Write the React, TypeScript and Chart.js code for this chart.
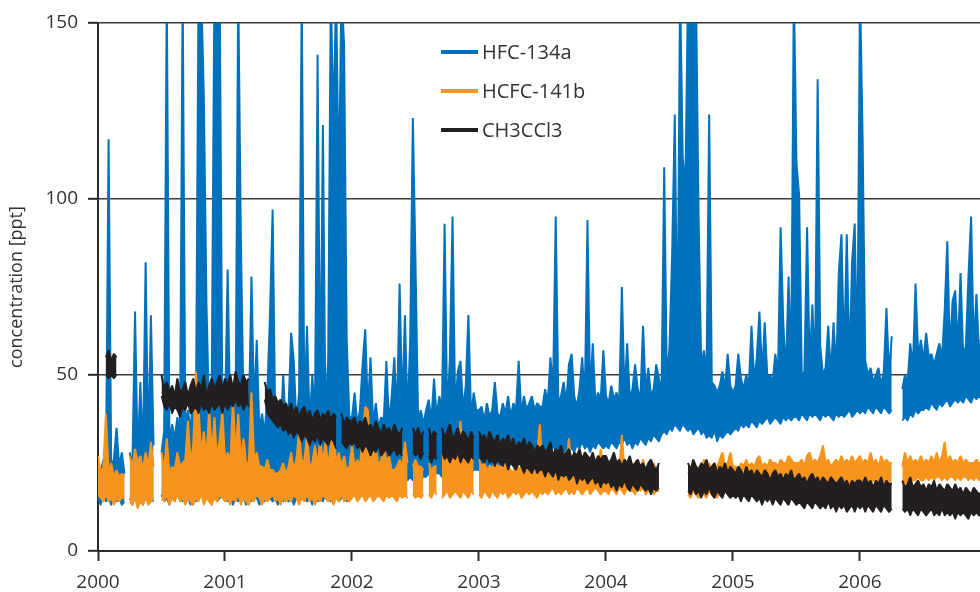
import React, { useEffect, useRef } from 'react';
import { Chart, registerables } from 'chart.js';

Chart.register(...registerables);

const _ = null;

// weekly records: START_YEAR + index / SAMPLES_PER_YEAR; each record gives the
// highest and the lowest value measured in that week
const START_YEAR = 2000;
const SAMPLES_PER_YEAR = 48;
const X_MIN = 2000;
const X_MAX = 2006.945;
const Y_MIN = 0;
const Y_MAX = 150;
const Y_STEP = 50;
const X_STEP = 1;

const SERIES_NAMES = ['HFC-134a', 'HCFC-141b', 'CH3CCl3'];
const SERIES_COLORS = ['#0071bc', '#f7941d', '#231f20'];
const Y_TITLE = 'concentration [ppt]';

// HFC-134a [ppt]
const HFC134A_HIGH = [
  24, 22, 26, 22, 117, 24, 26, 35, 24, 28, 22, _, 28, 24, 68, 26, 48, 27, 82, 28, 67, 30, _, _,
  28, 34, 160, 30, 36, 32, 38, 33, 160, 35, 40, 34, 45, 36, 160, 160, 129, 70, 38, 50, 160, 160, 160, 40,
  38, 80, 36, 45, 38, 160, 89, 40, 48, 36, 78, 40, 60, 34, 39, 33, 45, 67, 97, 36, 42, 34, 50, 35,
  40, 62, 54, 36, 45, 160, 38, 64, 36, 50, 38, 141, 40, 121, 37, 55, 160, 120, 160, 100, 160, 144, 60, 38,
  38, 45, 36, 40, 53, 63, 40, 55, 36, 42, 35, 38, 37, 54, 36, 44, 55, 38, 76, 40, 67, 38, 60, 123,
  82, 37, 40, 36, 40, 43, 37, 49, 38, 44, 40, 93, 38, 55, 95, 40, 51, 54, 40, 47, 67, 38, 45, 40,
  40, 41, 37, 42, 38, 40, 48, 39, 38, 42, 39, 44, 38, 42, 40, 54, 39, 44, 40, 42, 44, 40, 42, 41,
  41, 46, 42, 55, 46, 95, 42, 44, 48, 42, 53, 56, 44, 41, 46, 55, 43, 94, 44, 59, 42, 45, 43, 57,
  44, 42, 47, 43, 45, 42, 75, 44, 59, 43, 46, 53, 46, 43, 64, 45, 52, 44, 46, 53, 49, 45, 109, 48,
  58, 84, 124, 55, 160, 112, 103, 160, 160, 160, 160, 95, 52, 57, 50, 124, 48, 47, 45, 47, 51, 46, 56, 47,
  45, 47, 56, 49, 46, 50, 47, 64, 48, 55, 68, 50, 65, 49, 50, 48, 56, 50, 92, 65, 50, 78, 52, 160,
  110, 101, 50, 51, 92, 52, 70, 50, 134, 58, 50, 52, 64, 50, 65, 51, 79, 90, 54, 90, 52, 82, 93, 52,
  160, 117, 54, 50, 52, 48, 50, 52, 47, 51, 69, 50, 61, _, _, _, 46, 50, 48, 59, 52, 76, 55, 60,
  54, 62, 55, 56, 53, 56, 59, 55, 68, 88, 56, 71, 74, 57, 79, 56, 58, 78, 95, 57, 73, 56, 62,
];
const HFC134A_LOW = [
  15, 13, 16, 14, 15, 13, 16, 14, 15, 13, 14, _, 15, 13, 16, 14, 15, 13, 16, 14, 15, 14, _, _,
  16, 14, 15, 13, 16, 14, 17, 15, 14, 16, 15, 13, 16, 14, 15, 17, 14, 16, 15, 13, 16, 14, 15, 16,
  15, 14, 16, 13, 15, 14, 16, 15, 13, 15, 14, 16, 15, 13, 15, 14, 16, 15, 14, 15, 13, 16, 14, 15,
  14, 15, 13, 15, 14, 16, 15, 14, 15, 13, 16, 14, 15, 14, 16, 15, 14, 15, 16, 14, 15, 16, 14, 15,
  17, 16, 18, 17, 19, 18, 17, 19, 18, 20, 18, 19, 20, 18, 19, 20, 19, 21, 20, 19, 21, 20, 21, 20,
  21, 20, 22, 21, 21, 22, 21, 23, 22, 22, 21, 22, 23, 22, 21, 23, 22, 21, 23, 22, 24, 22, 23, 23,
  23, 22, 24, 23, 25, 24, 23, 25, 24, 26, 25, 24, 26, 25, 27, 26, 25, 27, 26, 28, 27, 26, 28, 27,
  28, 27, 29, 28, 30, 28, 29, 30, 28, 29, 30, 29, 28, 30, 29, 31, 29, 30, 28, 30, 29, 31, 30, 29,
  30, 29, 31, 30, 29, 31, 30, 32, 30, 31, 29, 31, 30, 32, 31, 30, 32, 31, 33, 32, 31, 33, 34, 33,
  35, 34, 36, 35, 34, 36, 35, 34, 35, 33, 34, 35, 33, 34, 32, 33, 32, 34, 31, 33, 32, 33, 34, 33,
  34, 35, 34, 36, 35, 36, 35, 37, 36, 35, 37, 36, 37, 38, 36, 37, 38, 37, 36, 38, 37, 38, 37, 38,
  38, 37, 39, 38, 37, 39, 38, 39, 38, 37, 39, 38, 39, 38, 37, 39, 38, 39, 38, 39, 40, 38, 39, 40,
  39, 40, 39, 41, 40, 39, 41, 40, 39, 41, 40, 39, 40, _, _, _, 37, 38, 37, 39, 38, 40, 39, 40,
  40, 41, 40, 42, 41, 40, 42, 41, 42, 43, 41, 42, 43, 42, 43, 42, 44, 43, 42, 44, 43, 44, 43,
];

// HCFC-141b [ppt]
const HCFC141B_HIGH = [
  27, 22, 24, 39, 22, 25, 21, 23, 21, 22, 21, _, 27, 24, 29, 25, 27, 23, 28, 24, 31, 24, _, _,
  28, 23, 32, 22, 24, 23, 28, 24, 25, 26, 37, 25, 30, 51, 41, 27, 34, 26, 41, 27, 38, 26, 32, 40,
  26, 28, 25, 43, 27, 39, 26, 32, 25, 25, 45, 26, 28, 24, 24, 23, 26, 23, 23, 22, 22, 23, 25, 22,
  24, 28, 23, 26, 34, 25, 26, 33, 24, 25, 30, 24, 32, 25, 31, 24, 30, 35, 25, 28, 24, 27, 23, 24,
  30, 24, 26, 24, 33, 41, 40, 26, 28, 30, 24, 26, 31, 25, 27, 23, 23, 24, 26, 24, 31, 25, _, 24,
  26, 24, 24, 23, _, 25, 23, 24, 24, _, 28, 25, 27, 26, 28, 25, 30, 37, 26, 28, 25, 27, 26, _,
  26, 24, 25, 23, 24, 23, 26, 24, 24, 23, 25, 24, 23, 22, 26, 23, 24, 22, 25, 23, 27, 23, 28, 36,
  23, 24, 22, 23, 23, 25, 22, 24, 23, 25, 32, 23, 23, 22, 24, 23, 25, 22, 24, 23, 26, 23, 29, 24,
  24, 23, 25, 22, 24, 23, 33, 23, 24, 22, 25, 23, 24, 23, 26, 23, 24, 22, 25, 23, 23, _, _, _,
  _, _, _, _, _, _, _, 22, 23, 25, 23, 24, 22, 26, 23, 25, 23, 24, 24, 26, 28, 24, 25, 28,
  24, 24, 23, 25, 24, 26, 24, 25, 24, 26, 27, 24, 25, 24, 26, 25, 25, 24, 26, 25, 25, 27, 26, 25,
  25, 25, 26, 24, 27, 28, 25, 26, 25, 27, 30, 25, 26, 24, 25, 26, 25, 27, 25, 26, 25, 27, 25, 26,
  27, 25, 26, 25, 28, 25, 26, 24, 27, 25, 26, 25, 25, _, _, _, 24, 28, 25, 27, 25, 26, 25, 27,
  25, 26, 25, 27, 25, 28, 25, 27, 31, 25, 27, 25, 26, 25, 27, 25, 26, 25, 25, 25, 26, 25, 24,
];
const HCFC141B_LOW = [
  16, 15, 14, 16, 14, 15, 13, 15, 14, 15, 15, _, 14, 13, 15, 12, 14, 13, 15, 13, 14, 15, _, _,
  15, 14, 16, 13, 15, 14, 16, 14, 15, 13, 15, 14, 13, 15, 14, 16, 13, 15, 14, 13, 15, 14, 16, 15,
  14, 15, 13, 15, 14, 16, 13, 15, 14, 13, 15, 14, 16, 15, 13, 15, 14, 15, 16, 14, 15, 13, 15, 14,
  15, 14, 16, 15, 13, 15, 14, 16, 14, 15, 13, 15, 14, 16, 15, 14, 15, 13, 15, 14, 16, 14, 15, 14,
  15, 16, 14, 15, 16, 14, 15, 16, 14, 15, 16, 15, 14, 16, 15, 16, 15, 14, 16, 15, 16, 15, _, 16,
  15, 16, 15, 16, _, 16, 15, 17, 16, _, 15, 16, 17, 15, 16, 17, 16, 15, 17, 16, 15, 17, 16, _,
  16, 15, 17, 16, 15, 17, 16, 15, 17, 16, 17, 15, 16, 17, 16, 17, 15, 16, 17, 16, 17, 16, 15, 17,
  16, 17, 16, 17, 18, 16, 17, 16, 17, 18, 16, 17, 16, 18, 17, 16, 17, 18, 16, 17, 18, 17, 16, 17,
  17, 16, 18, 17, 16, 18, 17, 16, 18, 17, 17, 16, 18, 17, 18, 16, 17, 18, 16, 17, 17, _, _, _,
  _, _, _, _, _, _, _, 16, 15, 17, 16, 15, 17, 16, 15, 17, 16, 16, 15, 17, 16, 17, 16, 17,
  17, 16, 18, 17, 16, 18, 17, 18, 17, 16, 18, 17, 18, 17, 18, 17, 18, 17, 18, 18, 17, 18, 18, 17,
  18, 19, 18, 19, 18, 19, 18, 19, 19, 18, 19, 18, 19, 19, 18, 19, 19, 18, 19, 19, 18, 19, 19, 18,
  19, 20, 19, 20, 19, 20, 20, 19, 20, 19, 20, 20, 19, _, _, _, 20, 19, 20, 21, 20, 20, 21, 20,
  20, 21, 20, 21, 20, 21, 21, 20, 21, 20, 21, 21, 20, 21, 20, 21, 21, 20, 21, 20, 21, 20, 21,
];

// CH3CCl3 [ppt]
const CH3CCL3_HIGH = [
  _, _, _, 55, 57, 54, 56, 55, _, _, _, _, _, _, _, _, _, _, _, _, _, _, _, _,
  50, 46, 48, 45, 47, 44, 49, 45, 46, 48, 44, 47, 49, 45, 48, 46, 50, 44, 47, 49, 46, 48, 50, 46,
  49, 47, 50, 46, 51, 48, 47, 50, 48, 49, _, _, _, _, _, 48, 45, 46, 43, 44, 42, 43, 41, 42,
  40, 42, 39, 41, 38, 40, 41, 38, 40, 37, 39, 40, 37, 39, 38, 40, 37, 39, 38, _, 39, 36, 38, 37,
  37, 38, 35, 37, 36, 38, 35, 36, 34, 37, 35, 33, 36, 34, 35, 33, 36, 34, 33, 35, _, _, _, 35,
  33, 35, 32, 34, _, 35, 32, 34, 33, _, 35, 32, 34, 36, 32, 33, 35, 32, 34, 33, 31, 34, 32, _,
  34, 32, 33, 31, 34, 32, 31, 33, 30, 32, 31, 33, 30, 32, 29, 31, 30, 32, 29, 31, 30, 28, 30, 29,
  30, 28, 29, 31, 27, 29, 28, 30, 27, 28, 29, 26, 28, 27, 29, 26, 28, 27, 26, 28, 25, 27, 26, 27,
  27, 25, 26, 28, 25, 26, 24, 26, 25, 27, 24, 25, 26, 24, 25, 23, 25, 26, 24, 23, 25, _, _, _,
  _, _, _, _, _, _, _, 25, 23, 26, 24, 23, 25, 24, 26, 23, 24, 25, 22, 24, 23, 25, 22, 24,
  23, 22, 24, 23, 21, 24, 22, 23, 21, 23, 22, 21, 23, 22, 20, 22, 23, 21, 22, 20, 22, 21, 23, 20,
  21, 22, 20, 21, 19, 21, 22, 20, 21, 19, 21, 20, 19, 21, 20, 19, 20, 21, 19, 20, 18, 20, 19, 20,
  20, 19, 21, 19, 20, 18, 20, 19, 21, 18, 20, 19, 19, _, _, _, 20, 18, 19, 21, 18, 19, 20, 18,
  19, 17, 19, 18, 20, 17, 19, 18, 17, 19, 18, 17, 19, 17, 18, 16, 18, 17, 16, 18, 17, 16, 17,
];
const CH3CCL3_LOW = [
  _, _, _, 50, 49, 50, 49, 50, _, _, _, _, _, _, _, _, _, _, _, _, _, _, _, _,
  44, 41, 40, 42, 39, 41, 40, 38, 41, 40, 42, 39, 40, 41, 39, 42, 40, 41, 39, 42, 40, 41, 42, 39,
  42, 40, 42, 41, 43, 41, 42, 40, 42, 41, _, _, _, _, _, 43, 39, 38, 37, 36, 35, 36, 34, 35,
  33, 34, 32, 34, 33, 31, 33, 32, 30, 32, 31, 33, 30, 32, 31, 30, 32, 31, 29, _, 31, 30, 29, 31,
  30, 31, 29, 30, 28, 30, 29, 27, 29, 28, 30, 27, 28, 29, 27, 28, 29, 27, 28, 27, _, _, _, 28,
  27, 28, 26, 28, _, 27, 25, 27, 26, _, 28, 26, 27, 25, 27, 26, 28, 25, 27, 26, 25, 27, 26, _,
  27, 26, 25, 27, 25, 26, 24, 26, 25, 24, 26, 23, 25, 24, 23, 25, 24, 22, 24, 23, 22, 24, 22, 23,
  23, 21, 23, 22, 21, 23, 20, 22, 21, 22, 20, 21, 22, 19, 21, 20, 21, 19, 20, 21, 19, 20, 18, 20,
  19, 20, 18, 19, 17, 19, 18, 20, 18, 17, 19, 18, 17, 19, 18, 17, 18, 16, 18, 17, 18, _, _, _,
  _, _, _, _, _, _, _, 17, 16, 18, 16, 17, 15, 17, 16, 18, 16, 15, 17, 16, 15, 17, 16, 15,
  16, 15, 16, 14, 16, 15, 14, 16, 15, 14, 15, 13, 15, 14, 15, 13, 15, 14, 13, 15, 14, 13, 15, 14,
  13, 14, 13, 12, 14, 13, 12, 14, 13, 12, 13, 12, 14, 12, 13, 11, 13, 12, 13, 11, 12, 13, 11, 13,
  12, 13, 11, 13, 12, 11, 13, 12, 11, 13, 12, 11, 12, _, _, _, 12, 11, 12, 10, 12, 11, 10, 12,
  11, 10, 11, 12, 10, 11, 10, 12, 10, 11, 10, 11, 9, 11, 10, 11, 10, 9, 11, 10, 11, 10, 10,
];

const FONT = '"Open Sans", "DejaVu Sans", sans-serif';
const TEXT_COLOR = '#333333';
const AXIS_COLOR = '#2b2b2b';

function toPoints(values: (number | null)[]) {
  return values.map((v, i) => ({ x: START_YEAR + i / SAMPLES_PER_YEAR, y: v }));
}

const insideLegend = {
  id: 'insideLegend',
  afterDraw(chart: any) {
    const ctx = chart.ctx;
    const { left, top } = chart.chartArea;
    ctx.save();
    ctx.font = `20px ${FONT}`;
    ctx.textBaseline = 'middle';
    ctx.textAlign = 'left';
    SERIES_NAMES.forEach((name, k) => {
      const y = top + 29 + k * 39;
      const x0 = left + 343;
      ctx.strokeStyle = SERIES_COLORS[k];
      ctx.lineWidth = 4;
      ctx.lineCap = 'butt';
      ctx.beginPath();
      ctx.moveTo(x0, y);
      ctx.lineTo(x0 + 37, y);
      ctx.stroke();
      ctx.fillStyle = TEXT_COLOR;
      ctx.fillText(name, x0 + 41, y + 1);
    });
    ctx.restore();
  },
};

export default function App() {
  const canvasRef = useRef<HTMLCanvasElement | null>(null);

  useEffect(() => {
    document.body.style.margin = '0';
    const canvas = canvasRef.current;
    if (!canvas) return;
    const pairs = [
      [HFC134A_LOW, HFC134A_HIGH],
      [HCFC141B_LOW, HCFC141B_HIGH],
      [CH3CCL3_LOW, CH3CCL3_HIGH],
    ];
    const datasets: any[] = [];
    pairs.forEach(([low, high], k) => {
      datasets.push({
        label: SERIES_NAMES[k] + ' min',
        data: toPoints(low),
        borderColor: SERIES_COLORS[k],
        backgroundColor: SERIES_COLORS[k],
        borderWidth: 1.5,
        borderJoinStyle: 'bevel',
        pointRadius: 0,
        tension: 0,
        spanGaps: false,
        fill: false,
        order: 30 - k * 10,
      });
      datasets.push({
        label: SERIES_NAMES[k],
        data: toPoints(high),
        borderColor: SERIES_COLORS[k],
        backgroundColor: SERIES_COLORS[k],
        borderWidth: 2,
        borderJoinStyle: 'bevel',
        pointRadius: 0,
        tension: 0,
        spanGaps: false,
        fill: '-1',
        order: 30 - k * 10,
      });
    });
    const chart = new Chart(canvas, {
      type: 'line',
      data: { datasets },
      options: {
        animation: false,
        responsive: true,
        maintainAspectRatio: false,
        devicePixelRatio: 1,
        layout: { padding: { top: 23, right: 0, left: 0, bottom: 0 } },
        plugins: {
          legend: { display: false },
          tooltip: { enabled: false },
          filler: { propagate: false },
        },
        events: [],
        scales: {
          x: {
            type: 'linear',
            min: X_MIN,
            max: X_MAX,
            afterFit: (scale: any) => {
              scale.height = 41;
            },
            ticks: {
              stepSize: X_STEP,
              includeBounds: false,
              autoSkip: false,
              maxRotation: 0,
              padding: 10,
              color: TEXT_COLOR,
              font: { family: FONT, size: 19 },
              callback: (v: any) => String(v),
            },
            grid: {
              display: true,
              drawOnChartArea: false,
              drawTicks: true,
              tickLength: 10,
              tickColor: AXIS_COLOR,
              tickWidth: 2,
              color: AXIS_COLOR,
            },
            border: { display: true, color: AXIS_COLOR, width: 2 },
          },
          y: {
            type: 'linear',
            min: Y_MIN,
            max: Y_MAX,
            afterFit: (scale: any) => {
              scale.width = 98;
            },
            ticks: {
              stepSize: Y_STEP,
              padding: 10,
              color: TEXT_COLOR,
              font: { family: FONT, size: 19 },
            },
            grid: {
              display: true,
              drawTicks: true,
              tickLength: 10,
              color: '#3a3a3a',
              lineWidth: 1.6,
              tickColor: AXIS_COLOR,
              tickWidth: 2,
            },
            border: { display: true, color: AXIS_COLOR, width: 2 },
            title: {
              display: true,
              text: Y_TITLE,
              color: TEXT_COLOR,
              font: { family: FONT, size: 18 },
              padding: { top: 6, bottom: 0 },
            },
          },
        },
      },
      plugins: [insideLegend],
    });
    return () => chart.destroy();
  }, []);

  return (
    <div style={{ position: 'absolute', left: 0, top: 0, width: 980, height: 592, background: '#ffffff' }}>
      <canvas ref={canvasRef} />
    </div>
  );
}
